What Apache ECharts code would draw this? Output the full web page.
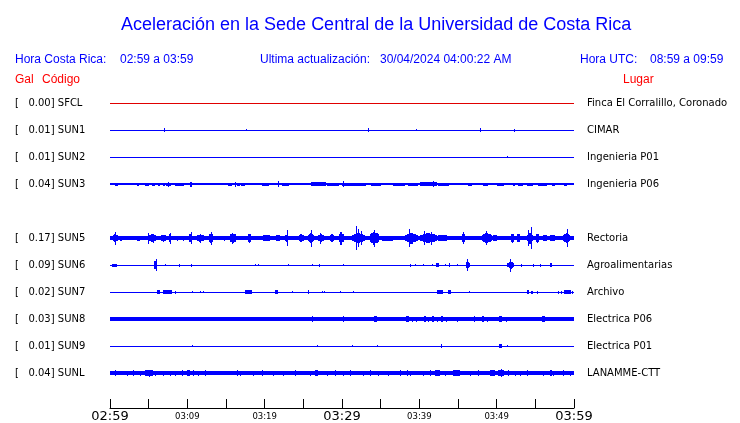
<!DOCTYPE html>
<html><head><meta charset="utf-8">
<script src="https://cdn.jsdelivr.net/npm/echarts@6/dist/echarts.min.js"></script>
<style>html,body{margin:0;padding:0;background:#fff}#c{width:740px;height:423px}</style>
</head><body><div id="c"></div>
<script>
// ---- data ----
const stations = ['SFCL','SUN1','SUN2','SUN3','SUN5','SUN6','SUN7','SUN8','SUN9','SUNL'];
const galValues = ['0.00','0.01','0.01','0.04','0.17','0.09','0.02','0.03','0.01','0.04'];
const places = ['Finca El Corralillo, Coronado','CIMAR','Ingenieria P01','Ingenieria P06','Rectoria','Agroalimentarias','Archivo','Electrica P06','Electrica P01','LANAMME-CTT'];
const rowSlots = [0,1,2,3,5,6,7,8,9,10];           // SUN4 slot (4) empty
const noiseLevel = [0.5,0.5,0.5,0.8,2,0.5,0.5,1.7,0.5,1.6];
const tickLabels = ['02:59','03:04','03:09','03:14','03:19','03:24','03:29','03:34','03:39','03:44','03:49','03:54','03:59'];
const bigTickLabels = ['02:59','03:29','03:59'];
const smallTickLabels = ['03:09','03:19','03:39','03:49'];
// events: [start minute, duration minutes, half amplitude]
const evSFCL = [];
const evSUN1 = [[7.0,0.1,2],[17.6,0.1,1],[33.4,0.1,2],[39.6,0.1,1],[47.8,0.1,2],[52.2,0.1,1.5]];
const evSUN2 = [[51.3,0.1,1.2]];
const evSUN3 = [[0.7,0.3,1.5],[2.4,0.1,1],[3.5,0.3,1.5],[4.5,0.6,1.5],[5.4,0.4,1.5],[6.2,0.3,1.5],[6.9,0.2,1.5],[7.5,0.15,2.5],[7.3,0.6,1.5],[8.4,1.2,1.5],[10.3,0.3,2.5],[10.6,0.1,1],[11.2,0.1,1],[11.8,0.1,1],[13.2,0.1,1.2],[14.1,0.1,1],[15.3,0.5,1.5],[16.1,0.1,2.5],[16.4,0.4,1.5],[17.0,0.4,1.5],[18.3,0.1,1.2],[18.9,0.1,1.2],[19.7,0.9,1.5],[21.0,0.1,1.2],[21.7,0.1,3],[22.2,1.0,1.5],[23.8,0.1,1],[24.3,0.1,1],[26.0,1.9,2],[28.1,1.5,1.5],[30.1,0.1,3],[30.0,0.6,1.5],[30.6,2.5,1.5],[33.8,1.3,1.5],[35.4,0.9,1],[36.6,1.6,1.5],[38.5,1.3,1.5],[40.1,2.2,2],[41.8,0.1,3],[42.4,1.5,1.5],[44.5,1.3,1],[46.3,0.5,1.5],[47.6,0.4,1.2],[48.2,0.7,1.5],[49.3,0.1,1.2],[50.0,1.0,1.5],[52.1,0.3,1.5],[52.8,0.6,1.5],[53.9,0.8,1.5],[55.3,1.2,1.5],[56.6,0.1,1.2],[57.1,0.4,1.5],[57.9,0.1,1.2],[58.7,0.4,1.5],[59.6,0.1,1.2]];
const evSUN5 = [[0.3,0.8,4],[0.6,0.1,6.5],[1.3,0.2,2.5],[3.5,0.4,2.5],[4.8,1.3,4],[4.9,0.15,5.5],[5.6,0.1,4.5],[6.5,0.9,3.5],[7.5,0.5,4],[7.8,0.15,5.5],[8.6,0.2,2.5],[9.4,0.2,2.5],[10.2,0.4,4],[10.5,0.15,6],[11.0,1.3,3.5],[11.6,0.1,4.5],[12.7,0.7,4.5],[13.0,0.15,6.5],[14.7,0.2,2.5],[15.4,1.0,4.5],[15.8,0.1,5.5],[17.7,0.7,4.5],[19.8,0.9,3],[21.5,0.5,3],[22.6,0.5,3.5],[22.85,0.2,8],[24.3,0.9,4],[25.6,0.8,5],[25.95,0.15,8.5],[26.8,1.0,4],[27.2,0.1,5.5],[28.3,0.8,4],[29.5,0.9,4.5],[29.8,0.15,6.5],[30.0,0.2,4],[31.3,1.7,5],[31.8,0.15,12],[32.1,0.1,9],[32.5,0.1,7],[33.6,1.2,6.5],[34.1,0.1,8.5],[35.2,1.4,2.5],[38.1,1.7,5.5],[38.7,0.15,9],[40.1,2.2,5],[40.6,0.15,7],[41.5,0.1,6.5],[42.4,1.2,3],[45.5,0.4,4],[45.7,0.1,6],[48.1,1.3,5],[48.6,0.1,7],[49.5,0.5,3],[51.7,0.7,4.5],[52.6,0.4,4],[53.9,0.8,5.5],[54.1,0.1,8],[54.4,0.15,11],[55.0,0.6,4.5],[56.0,0.5,3],[56.9,0.6,3],[58.6,0.9,5],[59.1,0.15,9]];
const evSUN6 = [[0.3,0.6,1.5],[5.75,0.3,4],[5.9,0.1,6],[7.1,0.1,1],[8.9,0.1,1.5],[10.5,0.1,1.5],[18.8,0.1,1],[19.2,0.1,1],[23.0,0.1,1.2],[26.1,0.1,1],[27.0,0.1,1.5],[30.1,0.1,1],[38.8,0.1,1.5],[39.5,0.1,1],[40.5,0.1,1],[41.6,0.1,1],[42.2,0.3,2],[43.3,0.1,1],[43.8,0.1,2],[44.9,0.1,1],[46.0,0.5,3.5],[46.2,0.1,6],[51.4,0.9,3.5],[51.7,0.1,6.5],[53.2,0.1,1.5],[54.7,0.1,1.5],[55.6,0.1,1.5],[56.95,0.2,2]];
const evSUN7 = [[6.1,0.4,2],[6.8,1.2,2],[8.4,0.1,1.5],[10.6,0.1,1.2],[11.6,0.1,1.2],[12.0,0.1,1.2],[17.4,0.9,2.2],[21.3,0.4,2],[23.5,0.1,1.2],[25.6,0.15,2],[27.4,0.1,1.2],[27.7,0.1,1.2],[29.7,0.1,1.2],[31.4,0.1,1.2],[42.3,0.8,2],[43.7,0.4,2],[46.4,0.1,1],[53.9,0.3,2],[54.5,0.2,1.5],[55.2,0.2,1.5],[57.9,0.1,1.5],[58.3,0.2,1.5],[58.7,0.9,2],[59.7,0.2,1.5]];
const evSUN8 = [[20.0,0.1,2],[21.3,0.1,2],[26.1,0.1,3],[26.9,0.1,2],[30.1,0.1,3],[34.2,0.3,2.8],[38.3,0.4,2.8],[39.1,0.1,2.5],[39.6,0.1,2.5],[40.6,0.2,2.8],[41.1,0.1,2.5],[41.7,0.2,2.8],[42.3,0.1,2.5],[42.8,0.2,2.8],[43.5,0.1,2.5],[44.9,0.1,2.5],[47.1,0.1,2.8],[48.1,0.3,2.8],[48.8,0.1,2.5],[50.3,0.4,3],[51.2,0.1,2.5],[55.9,0.4,2.8],[58.4,0.1,2.2]];
const evSUN9 = [[10.6,0.1,1.2],[26.8,0.1,1.2],[31.3,0.1,1],[34.5,0.1,1.2],[42.8,0.15,1.8],[50.3,0.4,1.8],[51.3,0.1,1.2]];
const evSUNL = [[0.65,0.1,2.8],[2.16,0.1,2.5],[3.0,0.1,3.2],[3.88,0.1,2.5],[4.5,1.0,3],[5.0,0.1,3.5],[5.82,0.1,2.5],[6.89,0.1,2.5],[7.76,0.1,2.5],[8.41,0.1,2.5],[9.27,0.1,2.8],[9.9,0.4,2.8],[10.77,0.1,3],[11.42,0.1,2.5],[12.29,0.1,2.8],[16.38,0.1,2.8],[16.81,0.1,2.5],[18.53,0.1,2.5],[19.62,0.1,2.8],[21.12,0.1,2.5],[22.41,0.1,2.5],[23.92,0.1,2.8],[25.86,0.1,2.5],[26.5,0.4,2.8],[28.02,0.1,2.5],[29.10,0.1,2.8],[30.17,0.1,2.5],[31.0,0.2,2.8],[32.76,0.1,2.5],[33.62,0.1,2.8],[34.70,0.1,2.5],[35.99,0.1,2.5],[37.50,0.1,2.8],[38.37,0.1,3],[38.79,0.1,2.5],[40.51,0.1,2.5],[41.38,0.1,2.8],[42.0,0.7,3],[43.32,0.1,2.5],[44.4,0.9,3],[46.55,0.1,2.5],[47.62,0.1,2.8],[49.1,0.7,2.8],[50.2,0.7,3],[50.5,0.1,4],[51.50,0.1,2.8],[52.37,0.1,2.5],[53.02,0.1,2.5],[53.88,0.1,2.8],[56.03,0.1,2.5],[56.90,0.2,2.8],[57.32,0.1,2.5],[58.62,0.1,2.8],[59.49,0.1,2.5]];
const events = [evSFCL,evSUN1,evSUN2,evSUN3,evSUN5,evSUN6,evSUN7,evSUN8,evSUN9,evSUNL];
const SPAN = 60;          // minutes in the window
const AMP_PER_ROW = 27;   // amplitude units per row spacing

// ---- styles ----
const traceColor = i => stations[i] === 'SFCL' ? '#e00000' : '#0000ff';
const BLUE = '#0000ff', RED = '#ff0000';

const chart = echarts.init(document.getElementById('c'), null, {renderer: 'canvas'});

const series = stations.map((name, i) => {
  const row = rowSlots[i];
  const data = [[0, SPAN, noiseLevel[i]]].concat(events[i]);
  return {
    type: 'custom', name, xAxisIndex: 0, yAxisIndex: 0, clip: false,
    data,
    renderItem: (params, api) => {
      const s = api.value(0), d = api.value(1), amp = api.value(2);
      const color = traceColor(i);
      // one rectangle centred on the baseline, covering time [t0,t1] at half-amplitude a
      const box = (t0, t1, a) => {
        const p0 = api.coord([t0, row - a / AMP_PER_ROW]);
        const p1 = api.coord([t1, row + a / AMP_PER_ROW]);
        let x0 = Math.round(p0[0]), x1 = Math.round(p1[0]);
        if (x1 <= x0) x1 = x0 + 1;
        let y0 = Math.round(Math.min(p0[1], p1[1])), y1 = Math.round(Math.max(p0[1], p1[1]));
        if (y1 <= y0) y1 = y0 + 1;
        return {type: 'rect', shape: {x: x0, y: y0, width: x1 - x0, height: y1 - y0}, style: {fill: color}};
      };
      if (params.dataIndex === 0 || amp <= 3 || d < 0.5) return box(s, s + d, amp);
      // burst: stepped envelope (jagged, strongest in the middle)
      return {type: 'group', children: [
        box(s, s + d, amp * 0.55),
        box(s + d * 0.15, s + d * 0.85, amp * 0.8),
        box(s + d * 0.35, s + d * 0.6, amp)
      ]};
    }
  };
});

function rowLabelLeft(v) {
  const i = rowSlots.indexOf(v);
  return i < 0 ? '' : '[   ' + galValues[i] + '] ' + stations[i];
}
function rowLabelRight(v) {
  const i = rowSlots.indexOf(v);
  return i < 0 ? '' : places[i];
}

const txt = (text, x, y, size, color, family) => ({
  type: 'text', x, y, silent: true,
  style: {text, fill: color, font: size + 'px "' + (family || 'Liberation Sans') + '"', verticalAlign: 'middle'}
});

chart.setOption({
  animation: false,
  backgroundColor: '#fff',
  title: {text: 'Aceleración en la Sede Central de la Universidad de Costa Rica', left: 116, top: 11,
          textStyle: {fontFamily: 'Liberation Sans', fontSize: 18, fontWeight: 'normal', color: BLUE}},
  graphic: [
    txt('Hora Costa Rica:', 15, 60, 12, BLUE),
    txt('02:59 a 03:59', 120, 60, 12, BLUE),
    txt('Ultima actualización:', 260, 60, 12, BLUE),
    txt('30/04/2024 04:00:22 AM', 380, 60, 12, BLUE),
    txt('Hora UTC:', 580, 60, 12, BLUE),
    txt('08:59 a 09:59', 650, 60, 12, BLUE),
    txt('Gal', 15, 80, 12, RED),
    txt('Código', 42, 80, 12, RED),
    txt('Lugar', 623, 80, 12, RED)
  ],
  grid: [
    {left: 110, right: 166, top: 103, bottom: 50},
    {left: 110, right: 166, top: 400, height: 9}
  ],
  xAxis: [
    {gridIndex: 0, type: 'value', min: 0, max: SPAN, show: false},
    {gridIndex: 1, type: 'value', min: 0, max: SPAN, interval: 5, position: 'bottom',
     axisLine: {show: true, lineStyle: {color: '#000', width: 1}},
     axisTick: {show: true, inside: true, length: 9, lineStyle: {color: '#000', width: 1}},
     splitLine: {show: false},
     axisLabel: {show: true, margin: 1, showMinLabel: true, showMaxLabel: true,
       formatter: v => {
         const lab = tickLabels[Math.round(v / 5)] || '';
         if (bigTickLabels.includes(lab)) return '{b|' + lab + '}';
         if (smallTickLabels.includes(lab)) return '{s|' + lab + '}';
         return '';
       },
       rich: {
         b: {fontFamily: 'DejaVu Sans', fontSize: 13, color: '#000', lineHeight: 15},
         s: {fontFamily: 'DejaVu Sans', fontSize: 8.5, color: '#000', lineHeight: 15}
       }}}
  ],
  yAxis: [
    {gridIndex: 0, type: 'value', min: 0, max: 10, interval: 1, inverse: true, position: 'left',
     axisLine: {show: false}, axisTick: {show: false}, splitLine: {show: false},
     axisLabel: {show: true, align: 'left', margin: 95, formatter: rowLabelLeft,
                 fontFamily: 'DejaVu Sans', fontSize: 10, color: '#000'}},
    {gridIndex: 0, type: 'value', min: 0, max: 10, interval: 1, inverse: true, position: 'right',
     axisLine: {show: false}, axisTick: {show: false}, splitLine: {show: false},
     axisLabel: {show: true, align: 'left', margin: 13, formatter: rowLabelRight,
                 fontFamily: 'DejaVu Sans', fontSize: 10, color: '#000'}},
    {gridIndex: 1, type: 'value', show: false, min: 0, max: 1}
  ],
  series
});
</script></body></html>
